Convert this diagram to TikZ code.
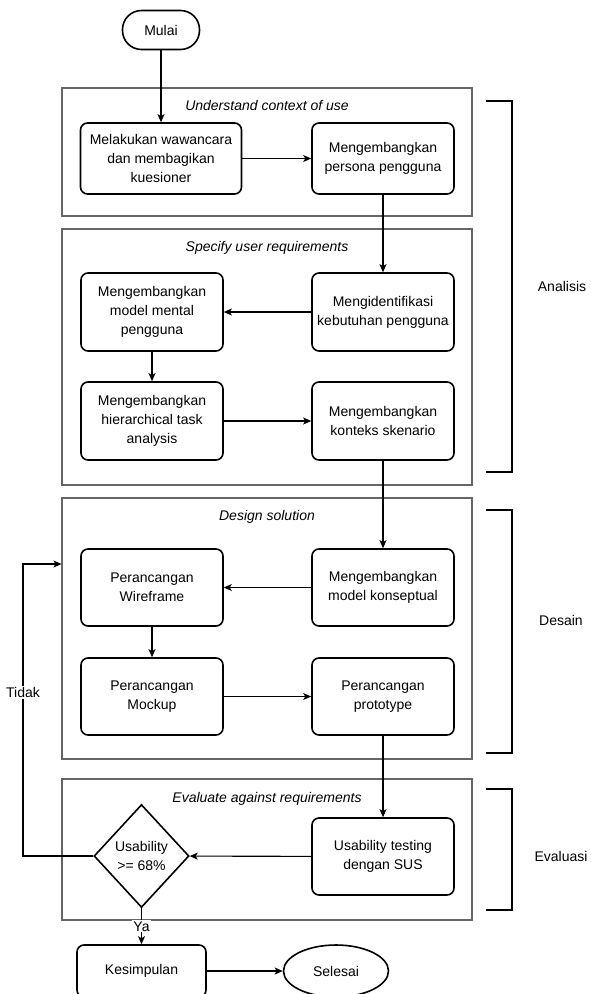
\documentclass[tikz,border=0pt]{standalone}
\usepackage{fontspec}
\setmainfont{Liberation Sans}
\usetikzlibrary{arrows.meta,shapes.geometric}
\tikzset{%
  >={Stealth[width=7pt,length=8pt,inset=2pt]},
  % Specifications for style of nodes:
           base/.style = {rectangle, rounded corners=7pt, draw=black,
                          line width=1.6pt, text centered},
        process/.style = {base, minimum width=142pt, minimum height=78pt},
       terminal/.style = {base, rounded corners=19pt, minimum width=77pt,
                          minimum height=39pt},
       endpoint/.style = {ellipse, draw=black, line width=1.6pt,
                          minimum width=105pt, minimum height=52pt},
       decision/.style = {diamond, draw=black, line width=1.6pt, inner sep=0pt,
                          minimum width=95pt, minimum height=103pt},
          stage/.style = {rectangle, draw=black!60, line width=1.1pt,
                          minimum width=410pt},
     stagetitle/.style = {font=\fontsize{14}{19}\selectfont\itshape},
          phase/.style = {line width=2.4pt},
}

\begin{document}
\begin{tikzpicture}[x=1pt, y=1pt, node distance=109pt, line width=1.1pt,
    every node/.style={font=\fontsize{14}{19}\selectfont}, align=center]
  \useasboundingbox (0,0) rectangle (590,-994);
  % Stages of the process (drawn first)
  \node (s1) [stage, minimum height=128pt] at (267,-152)   {};
  \node (s2) [stage, minimum height=256pt] at (267,-357)   {};
  \node (s3) [stage, minimum height=261pt] at (267,-628.5) {};
  \node (s4) [stage, minimum height=141pt] at (267,-849.5) {};
  \node (t1) [stagetitle] at (267,-105) {Understand context of use};
  \node (t2) [stagetitle] at (267,-248) {Specify user requirements};
  \node (t3) [stagetitle] at (267,-517) {Design solution};
  \node (t4) [stagetitle] at (267,-799) {Evaluate against requirements};
  % Specification of nodes (position, etc.)
  \node (mulai)        [terminal] at (161,-30) {Mulai};
  \node (wawancara)    [process, minimum width=161pt, minimum height=71pt]
                       at (161,-158.5) {Melakukan wawancara\\dan membagikan\\kuesioner};
  \node (persona)      [process, minimum height=71pt]
                       at (383,-158.5) {Mengembangkan\\persona pengguna};
  \node (identifikasi) [process] at (383,-312) {Mengidentifikasi\\kebutuhan pengguna};
  \node (mental)       [process] at (152,-312) {Mengembangkan\\model mental\\pengguna};
  \node (hta)          [process, below of=mental] {Mengembangkan\\hierarchical task\\analysis};
  \node (konteks)      [process, below of=identifikasi] {Mengembangkan\\konteks skenario};
  \node (konseptual)   [process, minimum height=77pt] at (383,-587.5) {Mengembangkan\\model konseptual};
  \node (wireframe)    [process, minimum height=77pt] at (152,-587.5) {Perancangan\\Wireframe};
  \node (mockup)       [process, minimum height=77pt, below of=wireframe] {Perancangan\\Mockup};
  \node (prototype)    [process, minimum height=77pt, below of=konseptual] {Perancangan\\prototype};
  \node (usability)    [process, minimum height=77pt] at (383,-856.5) {Usability testing\\dengan SUS};
  \node (cek)          [decision] at (141.5,-856) {Usability\\>= 68\%};
  \node (kesimpulan)   [base, minimum width=129pt, minimum height=52pt]
                       at (141.5,-971) {Kesimpulan};
  \node (selesai)      [endpoint] at (336,-971) {Selesai};
  \coordinate (balik) at (23,-564);
  % Specification of lines between nodes specified above
  \draw[->] (mulai) -- (wawancara);
  \draw[->] (wawancara) -- (persona);
  \draw[->] (persona) -- (identifikasi);
  \draw[->] (identifikasi) -- (mental);
  \draw[->] (mental) -- (hta);
  \draw[->] (hta) -- (konteks);
  \draw[->] (konteks) -- (konseptual);
  \draw[->] (konseptual) -- (wireframe);
  \draw[->] (wireframe) -- (mockup);
  \draw[->] (mockup) -- (prototype);
  \draw[->] (prototype) -- (usability);
  \draw[->] (usability) -- (cek);
  \draw[->] (cek) -- node[midway, fill=white, inner sep=1pt] {Ya} (kesimpulan);
  \draw[->] (kesimpulan) -- (selesai);
  \draw[->] (cek.west) -| node[pos=0.78, fill=white, inner sep=1pt] {Tidak} (balik)
            -- (balik -| s3.west);
  % Phases on the right
  \draw[phase] (486,-101) -- (512,-101) -- (512,-472) -- (486,-472);
  \draw[phase] (486,-510) -- (512,-510) -- (512,-753) -- (486,-753);
  \draw[phase] (486,-789) -- (512,-789) -- (512,-910) -- (486,-910);
  \node (analisis) at (562,-286) {Analisis};
  \node (desain)   at (561,-620) {Desain};
  \node (evaluasi) at (561,-856) {Evaluasi};
\end{tikzpicture}
\end{document}
